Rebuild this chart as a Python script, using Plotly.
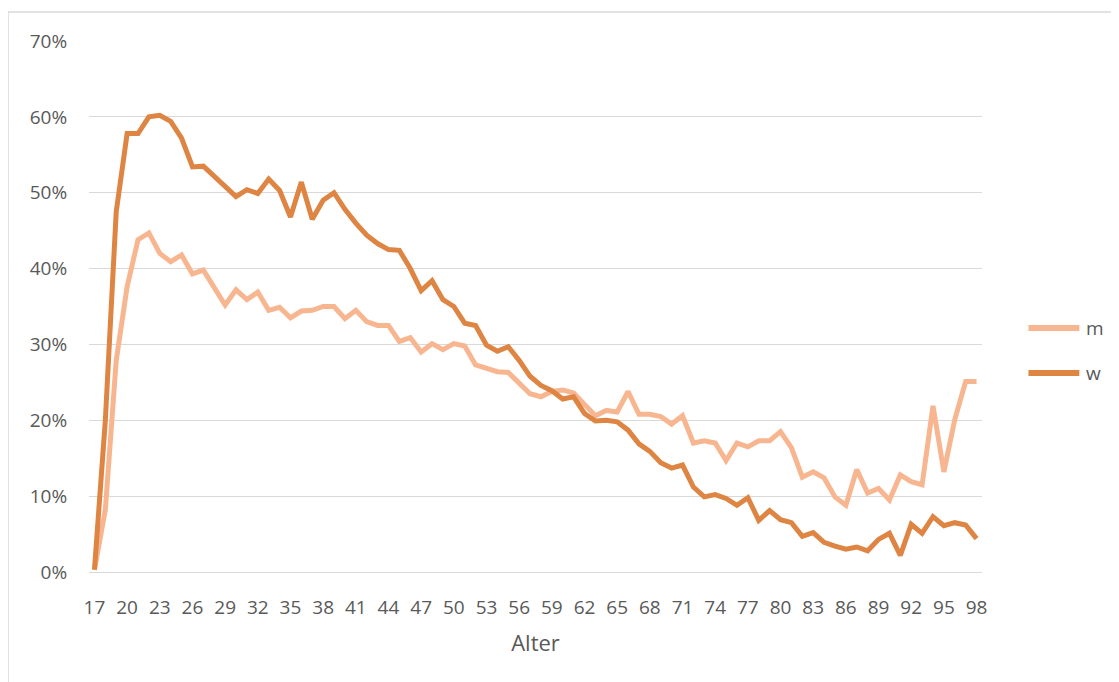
import plotly.graph_objects as go

ages = list(range(17, 99))

m_values = [0.3, 8.2, 27.9, 37.6, 43.8, 44.7, 42.0, 40.9, 41.8, 39.3,
            39.8, 37.4, 35.2, 37.2, 35.9, 36.9, 34.5, 34.9, 33.5, 34.4,
            34.5, 35.0, 35.0, 33.4, 34.5, 33.0, 32.5, 32.5, 30.4, 30.9,
            29.0, 30.1, 29.3, 30.1, 29.8, 27.3, 26.9, 26.4, 26.3, 24.9,
            23.5, 23.1, 23.8, 24.0, 23.6, 22.1, 20.6, 21.3, 21.1, 23.8,
            20.8, 20.8, 20.5, 19.5, 20.6, 17.0, 17.3, 17.0, 14.7, 17.0,
            16.5, 17.3, 17.3, 18.5, 16.4, 12.5, 13.2, 12.4, 9.9, 8.8,
            13.5, 10.4, 11.0, 9.5, 12.8, 11.9, 11.5, 21.9, 13.2, 20.1,
            25.1, 25.1]

w_values = [0.3, 20.0, 47.5, 57.8, 57.8, 60.0, 60.2, 59.4, 57.2, 53.4,
            53.5, 52.2, 51.0, 49.5, 50.4, 49.9, 51.8, 50.3, 46.8, 51.4,
            46.5, 49.0, 50.0, 47.8, 46.0, 44.4, 43.3, 42.5, 42.4, 40.0,
            37.1, 38.4, 35.9, 35.0, 32.8, 32.5, 29.9, 29.1, 29.7, 27.9,
            25.8, 24.6, 23.9, 22.8, 23.1, 20.9, 19.9, 20.0, 19.8, 18.7,
            16.9, 15.9, 14.4, 13.7, 14.1, 11.2, 9.9, 10.2, 9.7, 8.8,
            9.8, 6.8, 8.1, 6.9, 6.5, 4.7, 5.2, 3.9, 3.4, 3.0,
            3.3, 2.8, 4.3, 5.1, 2.2, 6.3, 5.1, 7.3, 6.1, 6.5,
            6.2, 4.4]

series_names = ["m", "w"]
x_tick_vals = list(range(17, 99, 3))
x_tick_labels = [str(a) for a in x_tick_vals]
y_tick_vals = [0, 0.1, 0.2, 0.3, 0.4, 0.5, 0.6, 0.7]

m_color = "#F8B690"
w_color = "#DE8543"
text_color = "#595959"
font_family = "Open Sans, Liberation Sans, sans-serif"
line_w = 5

fig = go.Figure()
fig.add_trace(go.Scatter(
    x=ages, y=[v / 100 for v in m_values], mode="lines", name=series_names[0],
    line=dict(color=m_color, width=line_w), showlegend=False))
fig.add_trace(go.Scatter(
    x=ages, y=[v / 100 for v in w_values], mode="lines", name=series_names[1],
    line=dict(color=w_color, width=line_w), showlegend=False))

# Legend (drawn to match the long legend keys of the original)
legend_items = [(series_names[0], m_color, 0.4595), (series_names[1], w_color, 0.3748)]
shapes = [dict(type="rect", xref="paper", yref="paper",
               x0=-0.0907, x1=1.4, y0=-0.4, y1=1.0546,
               line=dict(color="#D9D9D9", width=1.5), layer="below")]
annotations = []
for name, color, ypos in legend_items:
    shapes.append(dict(type="line", xref="paper", yref="paper",
                       x0=1.052, x1=1.109, y0=ypos, y1=ypos,
                       line=dict(color=color, width=6)))
    annotations.append(dict(text=name, xref="paper", yref="paper",
                            x=1.1145, y=ypos, xanchor="left", yanchor="middle",
                            showarrow=False,
                            font=dict(size=19, color=text_color, family=font_family)))

fig.update_layout(
    width=1111, height=674,
    margin=dict(l=81, r=137, t=33, b=110),
    paper_bgcolor="white", plot_bgcolor="white",
    font=dict(family=font_family, size=19, color=text_color),
    showlegend=False,
    xaxis=dict(
        range=[16.5, 98.5],
        tickmode="array",
        tickvals=x_tick_vals,
        ticktext=x_tick_labels,
        showgrid=False, zeroline=False, showline=False,
        ticks="outside", ticklen=18, tickcolor="rgba(0,0,0,0)",
        tickfont=dict(size=19, color=text_color),
        title=dict(text="Alter", font=dict(size=22, color=text_color), standoff=16),
    ),
    yaxis=dict(
        range=[0, 0.7],
        tickmode="array",
        tickvals=y_tick_vals,
        tickformat=".0%",
        showgrid=True, gridcolor="#D9D9D9", gridwidth=1.3,
        zeroline=True, zerolinecolor="#D9D9D9", zerolinewidth=1.3,
        showline=False,
        ticks="outside", ticklen=17, tickcolor="rgba(0,0,0,0)",
        tickfont=dict(size=19, color=text_color),
    ),
    shapes=shapes,
    annotations=annotations,
)

fig.write_html("out.html")
